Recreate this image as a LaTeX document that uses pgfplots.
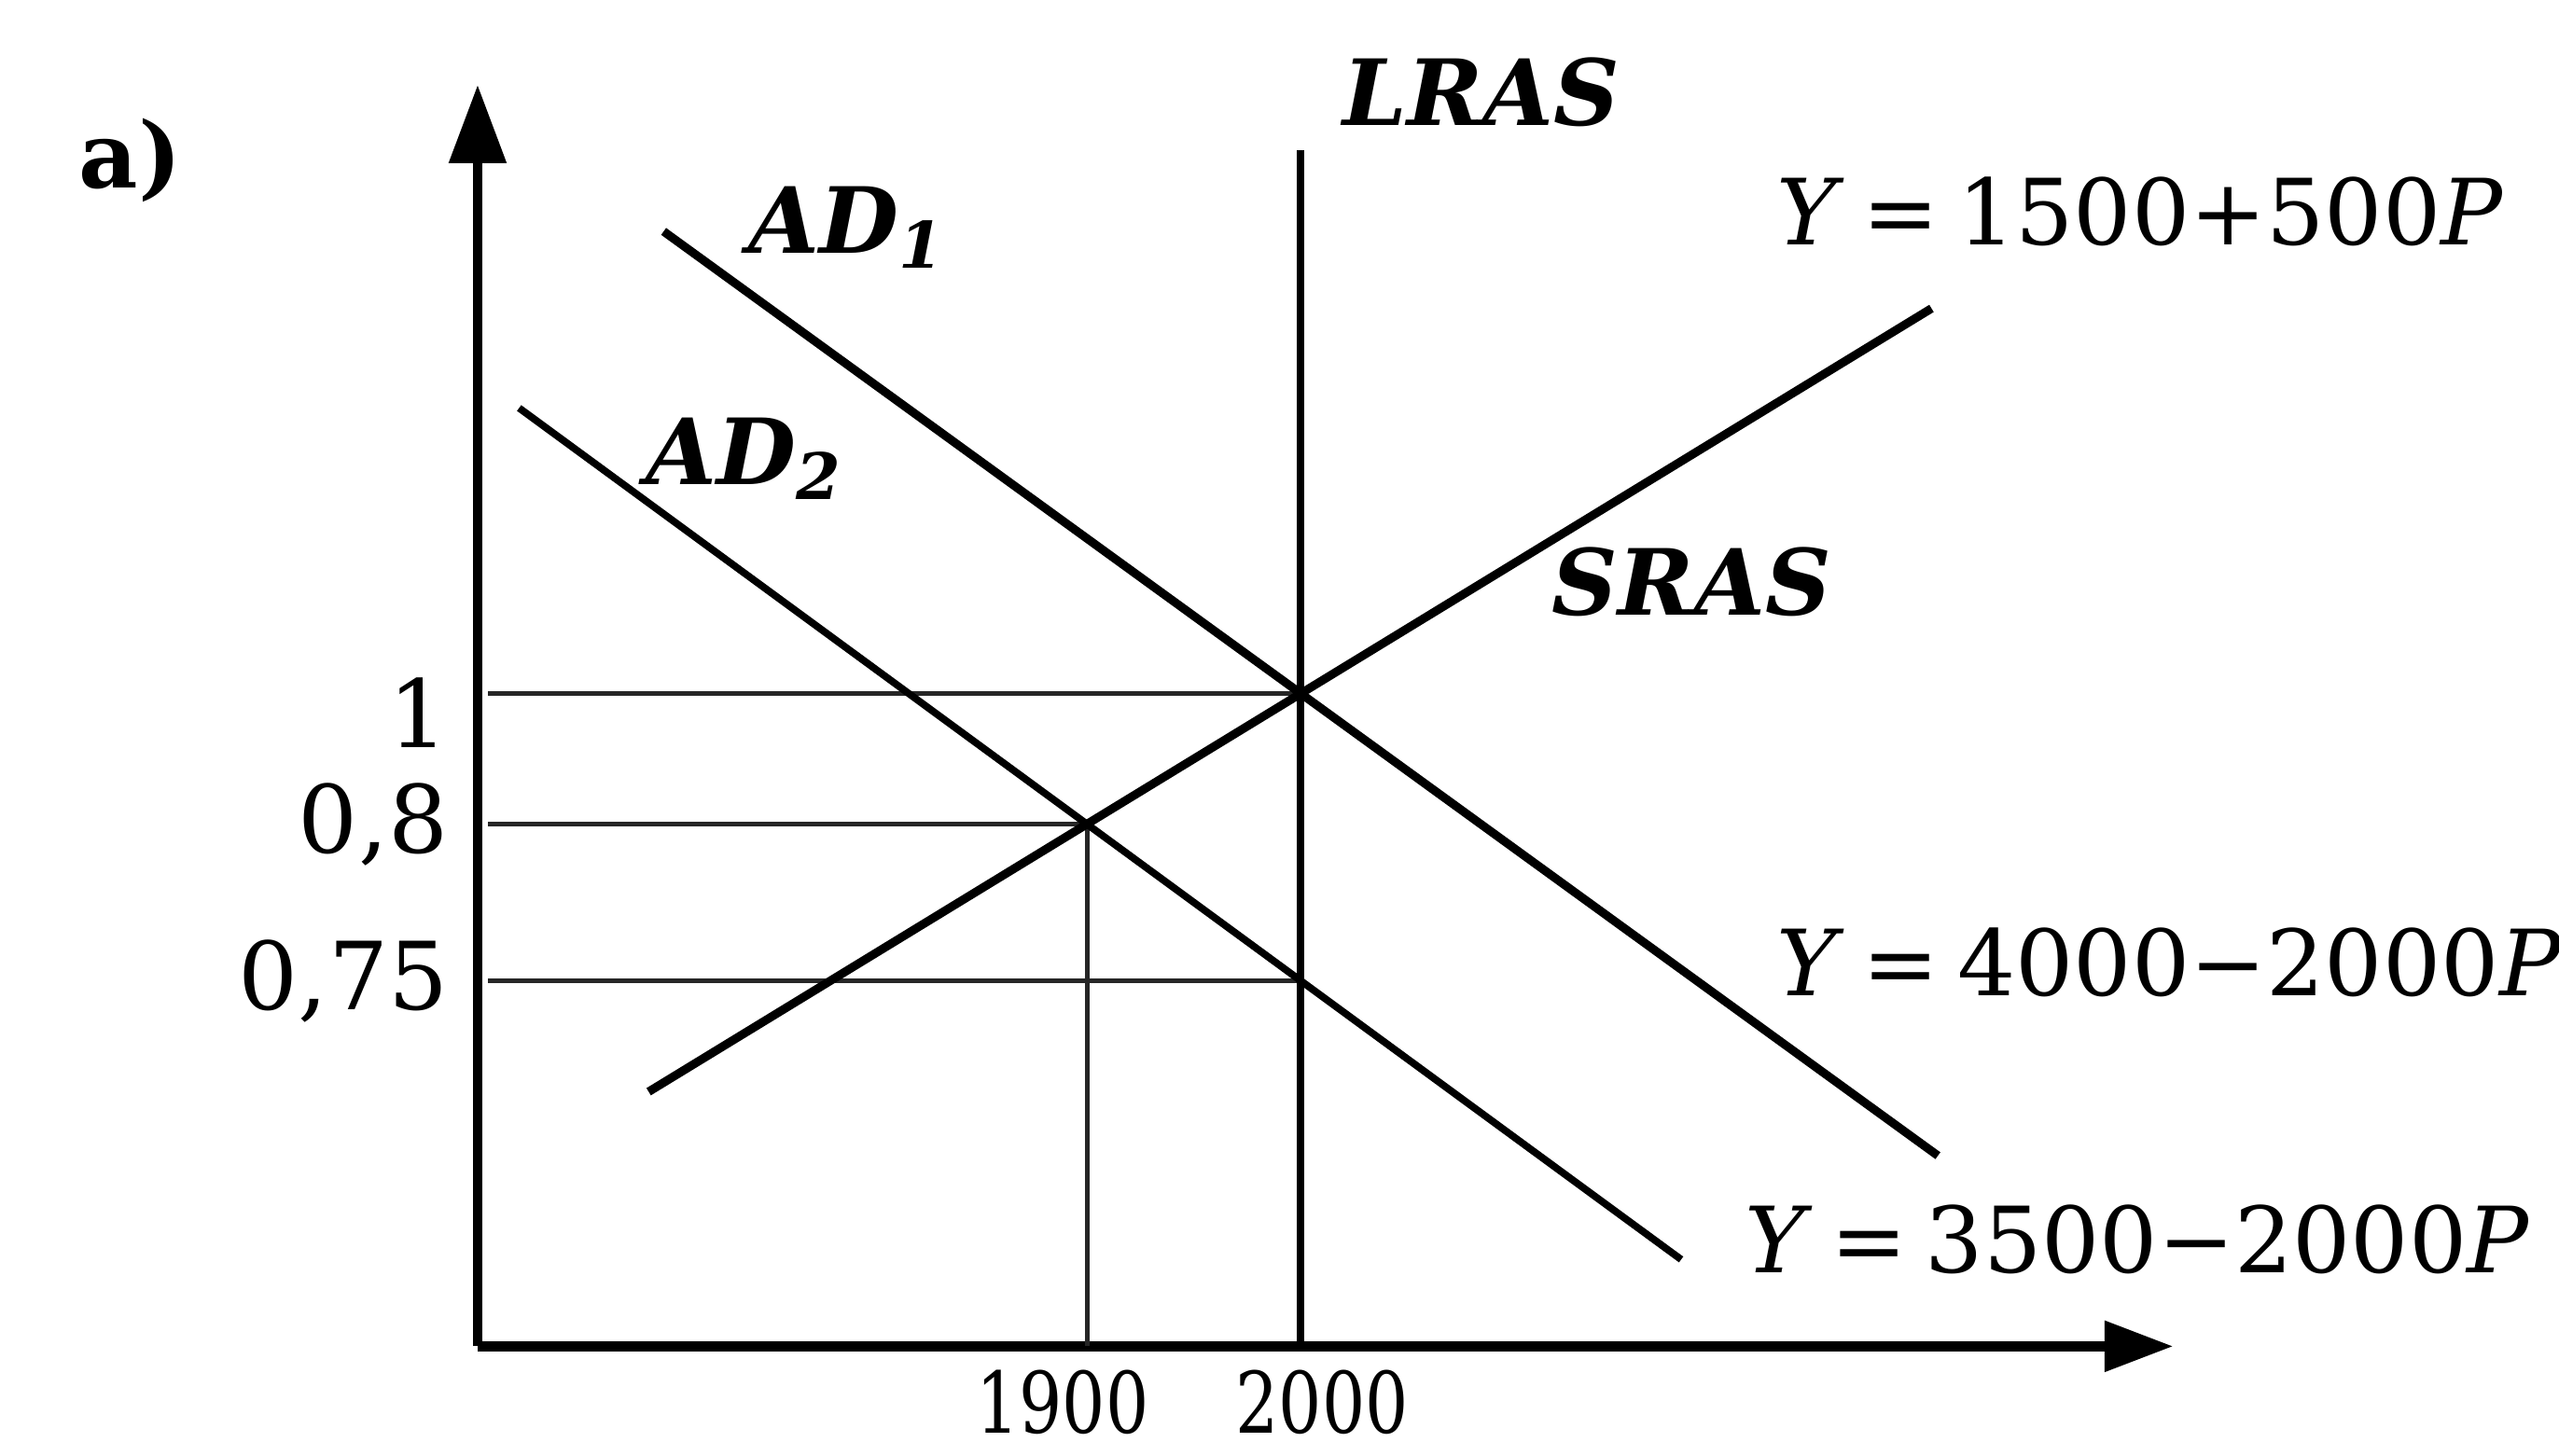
\documentclass[border=0pt]{standalone}
\usepackage{fontspec}
\setmainfont{DejaVu Serif}
\newfontfamily\narrowserif[FakeStretch=0.8]{DejaVu Serif}
\usepackage{pgfplots}
\pgfplotsset{compat=1.18}
\usetikzlibrary{arrows.meta}

\newcommand{\eqsp}{\hspace{0.2em}}

\begin{document}
\begin{tikzpicture}[font=\fontsize{14}{16}\selectfont]
\begin{axis}[
  scale only axis, width=259.7pt, height=193.25pt,
  xmin=1615, xmax=2408, ymin=0, ymax=1.9325,
  axis lines=left,
  axis line style={line width=1.5pt},
  x axis line style={-{Triangle[length=10.5pt,width=7.5pt]}},
  y axis line style={-{Triangle[length=12pt,width=8.5pt]}},
  xtick={1900,2000},
  xticklabels={\hspace*{-7.5pt}1900, \hspace*{6.5pt}2000},
  ytick={0.56,0.8,1},
  yticklabels={{0,75},{0,8},{\raisebox{-3pt}[\height][0pt]{1}}},
  major tick length=0pt,
  yticklabel style={font=\fontsize{14.4}{16}\selectfont, xshift=-1pt},
  xticklabel style={font=\fontsize{13}{15}\selectfont\narrowserif, inner sep=0pt, yshift=-3.5pt},
  clip=false,
]
% guide lines from the equilibria to the axes
\addplot[line width=0.7pt, black!85] coordinates {(1620,1) (2000,1)};
\addplot[line width=0.7pt, black!85] coordinates {(1620,0.8) (1900,0.8)};
\addplot[line width=0.7pt, black!85] coordinates {(1620,0.56) (2000,0.56)};
\addplot[line width=0.7pt, black!85] coordinates {(1900,0) (1900,0.8)};
% LRAS
\addplot[line width=1.1pt] coordinates {(2000,0) (2000,1.8325)};
% AD1
\addplot[line width=1.3pt] coordinates {(1702,1.708) (2298,0.292)};
% AD2
\addplot[line width=1.1pt] coordinates {(1634.4,1.4374) (2177.9,0.133)};
% SRAS
\addplot[line width=1.3pt] coordinates {(1695,0.39) (2295,1.59)};

\node[anchor=base west, inner sep=0, font=\fontsize{14}{16}\selectfont\bfseries] at (axis cs:1428,1.775) {а)};
\node[anchor=base west, inner sep=0, font=\fontsize{14}{16}\selectfont\bfseries\itshape] at (axis cs:2019,1.87) {LRAS};
\node[anchor=base west, inner sep=0, font=\fontsize{14}{16}\selectfont\bfseries\itshape] at (axis cs:1741,1.675) {AD\textsubscript{1}};
\node[anchor=base west, inner sep=0, font=\fontsize{14}{16}\selectfont\bfseries\itshape] at (axis cs:1693,1.32) {AD\textsubscript{2}};
\node[anchor=base west, inner sep=0, font=\fontsize{14}{16}\selectfont\bfseries\itshape] at (axis cs:2117,1.12) {SRAS};
\node[anchor=base west, inner sep=0] at (axis cs:2222,1.6875) {\textit{Y}\eqsp=\eqsp1500+500\textit{P}};
\node[anchor=base west, inner sep=0] at (axis cs:2222,0.5375) {\textit{Y}\eqsp=\eqsp4000−2000\textit{P}};
\node[anchor=base west, inner sep=0] at (axis cs:2207,0.1125) {\textit{Y}\eqsp=\eqsp3500−2000\textit{P}};

\coordinate (bbSW) at (axis cs:1391.6,-0.1675);
\coordinate (bbNE) at (axis cs:2588.5,2.0625);
\end{axis}
\pgfresetboundingbox
\path[use as bounding box] (bbSW) rectangle (bbNE);
\end{tikzpicture}
\end{document}
